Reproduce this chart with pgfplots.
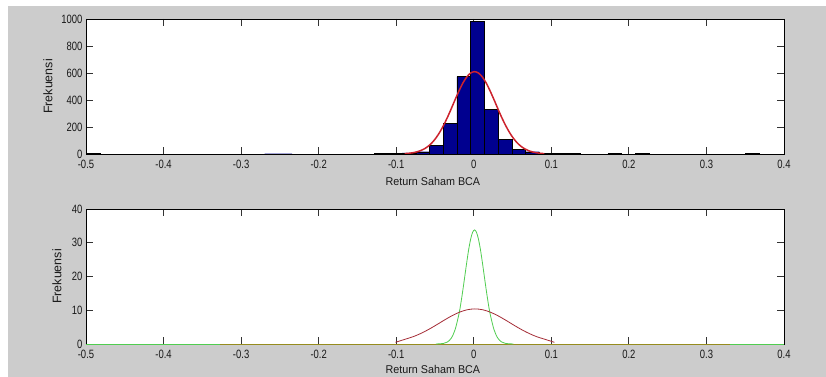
\documentclass[border=0pt]{standalone}
\usepackage{fontspec}
\setmainfont{Liberation Sans}
\newfontfamily\tickf{Liberation Sans}[FakeStretch=0.88]
\usepackage{pgfplots}
\pgfplotsset{compat=1.18}
\definecolor{bggray}{RGB}{204,204,204}
\definecolor{barblue}{RGB}{0,0,143}
\definecolor{fitred}{RGB}{205,35,45}
\definecolor{fitred2}{RGB}{165,45,55}
\definecolor{fitgreen}{RGB}{80,205,80}
\definecolor{olive2}{RGB}{150,140,30}
\definecolor{tickgray}{RGB}{25,25,25}
\pgfplotsset{
  matlab/.style={
    scale only axis,
    width=698bp, height=135bp,
    xmin=-0.5, xmax=0.4,
    xtick={-0.5,-0.4,-0.3,-0.2,-0.1,0,0.1,0.2,0.3,0.4},
    xticklabels={-0.5,-0.4,-0.3,-0.2,-0.1,0,0.1,0.2,0.3,0.4},
    tick align=inside,
    major tick length=7bp,
    tick style={line width=0.8bp, color=black!80},
    axis line style={line width=0.8bp, black},
    axis background/.style={fill=white},
    ticklabel style={font=\tickf\fontsize{10.8}{12}\selectfont, text=tickgray, yscale=1.12},
    xticklabel shift=2.5bp,
    xlabel={Return Saham BCA},
    ylabel={Frekuensi},
    xlabel style={font=\fontsize{10.8}{12}\selectfont, text=tickgray, yscale=1.05, anchor=center},
    ylabel style={font=\fontsize{12.5}{14}\selectfont, text=tickgray, anchor=center},
  }
}
\pgfplotstableread{
x y
-0.4908 3
-0.2607 2
-0.2430 2
-0.1191 3
-0.1014 4
-0.0837 9
-0.0660 17
-0.0483 62
-0.0306 228
-0.0129 574
0.00485 980
0.0226 332
0.0403 111
0.0580 32
0.0757 17
0.0934 5
0.1111 3
0.1288 3
0.1818 3
0.2172 3
0.3589 3
}\histdata
\pgfplotstableread{
x y
-0.089 2.9
-0.084 5.1
-0.079 8.9
-0.074 14.8
-0.069 23.9
-0.064 37.3
-0.059 56.5
-0.054 82.5
-0.049 117
-0.044 160
-0.039 212
-0.034 271
-0.029 336
-0.024 403.5
-0.019 468
-0.014 526
-0.009 571
-0.004 600
0.001 610
0.006 600
0.011 571
0.016 526
0.021 468
0.026 403.5
0.031 336
0.036 271
0.041 212
0.046 160
0.051 117
0.056 82.5
0.061 56.5
0.066 37.3
0.071 23.9
0.076 14.8
0.081 8.9
0.086 5.1
0.091 2.9
}\fittop
\pgfplotstableread{
x y
-0.101 0.5
-0.0885 1.41
-0.0785 2.14
-0.0685 3.10
-0.0585 4.28
-0.0485 5.61
-0.0385 7.01
-0.0285 8.33
-0.0185 9.42
-0.0085 10.15
0.0015 10.4
0.0115 10.15
0.0215 9.42
0.0315 8.33
0.0415 7.01
0.0515 5.61
0.0615 4.28
0.0715 3.10
0.0815 2.14
0.0915 1.41
0.104 0.5
}\redbottom
\pgfplotstableread{
x y
-0.049 0
-0.039 0.17
-0.034 0.59
-0.029 1.73
-0.024 4.3
-0.019 9.0
-0.0165 12.3
-0.014 16.1
-0.0115 20.2
-0.009 24.3
-0.0065 28.1
-0.004 31.1
-0.0015 33.1
0.001 33.8
0.0035 33.1
0.006 31.1
0.0085 28.1
0.011 24.3
0.0135 20.2
0.016 16.1
0.0185 12.3
0.021 9.0
0.026 4.3
0.031 1.73
0.036 0.59
0.041 0.17
0.051 0
}\greenbottom
\begin{document}
\begin{tikzpicture}
\useasboundingbox (0,0) rectangle (826bp,377bp);
\fill[white] (0,0) rectangle (826bp,377bp);
\fill[bggray] (8bp,0) rectangle (826bp,371bp);
% top axis
\begin{axis}[matlab,
  at={(86bp,223bp)}, anchor=south west,
  ymin=0, ymax=1000,
  ytick={0,200,400,600,800,1000},
  yticklabels={0,200,400,600,800,1000},
  xlabel style={at={(axis description cs:0.497,-0.207)}},
  ylabel style={at={(axis description cs:-0.0544,0.5)}},
]
\addplot[ybar, bar width=0.0177, bar shift=0pt, fill=barblue, draw=black, line width=0.4bp] table[x=x,y=y] {\histdata};
\addplot[fitred, line width=1.5bp, smooth, no marks] table[x=x,y=y] {\fittop};
\end{axis}
% bottom axis
\begin{axis}[matlab,
  at={(86bp,33bp)}, anchor=south west,
  ymin=0, ymax=40,
  ytick={0,10,20,30,40},
  yticklabels={0,10,20,30,40},
  xlabel style={at={(axis description cs:0.497,-0.188)}},
  ylabel style={at={(axis description cs:-0.0415,0.5)}},
  clip=false,
]
\addplot[fitgreen, line width=0.9bp, no marks] coordinates {(-0.5,0) (0.4,0)};
\addplot[olive2, line width=0.9bp, no marks] coordinates {(-0.327,0) (0.33,0)};
\addplot[fitgreen, line width=0.8bp, smooth, no marks] table[x=x,y=y] {\greenbottom};
\addplot[fitred2, line width=0.8bp, smooth, no marks] table[x=x,y=y] {\redbottom};
\end{axis}
\end{tikzpicture}
\end{document}
